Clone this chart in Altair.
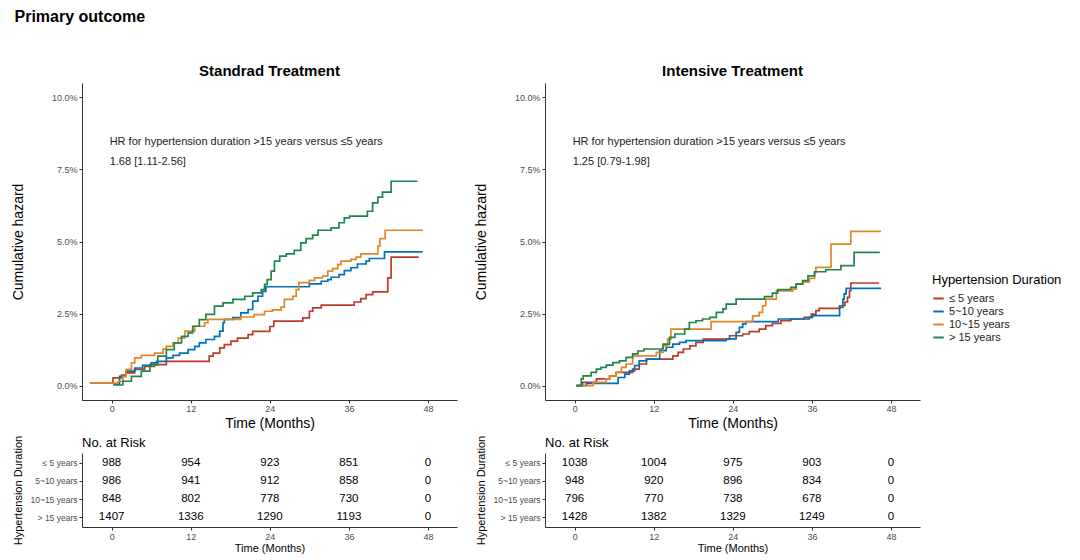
import altair as alt
import pandas as pd

FONT = "Liberation Sans"

groups = ["≤ 5 years", "5~10 years", "10~15 years", "> 15 years"]
colors = ["#BC3C29", "#0072B5", "#E18727", "#20854E"]

# ---- Standard treatment: cumulative hazard (%) step curves ----
std_le5_t = [-3.3, 0.2, 1.5, 2.2, 3.5, 5.0, 6.5, 8.3, 14.8, 15.4, 16.4, 17.1, 18.1, 19.1, 20.7, 21.4,
             24.0, 24.6, 29.0, 30.0, 30.5, 31.8, 36.8, 37.8, 38.6, 39.6, 41.9, 42.4, 46.6]
std_le5_h = [0.09, 0.27, 0.36, 0.44, 0.56, 0.67, 0.73, 0.84, 1.02, 1.13, 1.31, 1.42, 1.54, 1.65, 1.77, 1.88,
             2.05, 2.24, 2.35, 2.58, 2.70, 2.79, 2.90, 3.02, 3.16, 3.25, 3.74, 4.46, 4.46]
std_5_10_t = [0.3, 1.2, 2.2, 3.5, 4.7, 6.0, 6.8, 8.3, 9.3, 10.3, 11.6, 12.6, 13.3, 14.3, 15.6, 16.4,
              16.9, 17.1, 18.4, 19.6, 20.7, 21.4, 22.2, 22.9, 23.4, 30.0, 31.8, 32.8, 33.3, 34.5, 35.3, 36.3,
              37.3, 38.6, 39.1, 41.4, 47.2]
std_5_10_h = [0.05, 0.32, 0.50, 0.61, 0.70, 0.79, 0.84, 0.96, 1.05, 1.13, 1.25, 1.36, 1.48, 1.60, 1.71, 1.89,
              2.18, 2.30, 2.36, 2.52, 2.64, 2.93, 3.10, 3.27, 3.43, 3.53, 3.62, 3.68, 3.76, 3.85, 3.99, 4.09,
              4.22, 4.32, 4.41, 4.64, 4.64]
std_10_15_t = [-3.3, 1.0, 1.7, 2.2, 3.0, 3.5, 4.5, 6.5, 7.8, 8.3, 9.3, 10.1, 11.1, 12.6, 14.1, 14.6,
               19.6, 21.6, 23.2, 24.4, 25.7, 26.2, 27.5, 28.0, 28.4, 30.0, 30.8, 32.0, 32.8, 33.5, 34.3, 34.8,
               36.3, 37.1, 37.8, 40.4, 40.7, 41.5, 47.2]
std_10_15_h = [0.09, 0.15, 0.32, 0.56, 0.79, 0.96, 1.05, 1.13, 1.27, 1.36, 1.48, 1.65, 1.89, 2.06, 2.18, 2.30,
               2.38, 2.46, 2.58, 2.63, 2.72, 2.99, 3.10, 3.33, 3.57, 3.65, 3.74, 3.80, 3.97, 4.06, 4.20, 4.32,
               4.38, 4.46, 4.57, 4.84, 5.10, 5.39, 5.39]
std_gt15_t = [0.2, 1.7, 3.0, 4.5, 5.8, 7.0, 8.3, 9.5, 10.6, 11.6, 12.3, 13.3, 14.3, 15.6, 16.9, 18.4,
              20.2, 21.4, 22.7, 23.2, 23.6, 24.2, 24.7, 25.5, 26.5, 27.7, 28.7, 29.5, 30.5, 31.3, 33.3, 34.5,
              35.3, 36.1, 38.8, 39.6, 40.4, 41.1, 42.4, 46.4]
std_gt15_h = [0.02, 0.15, 0.32, 0.50, 0.73, 1.02, 1.25, 1.48, 1.71, 1.83, 2.06, 2.29, 2.47, 2.76, 2.87, 2.99,
              3.10, 3.22, 3.33, 3.51, 3.68, 3.97, 4.32, 4.49, 4.57, 4.69, 4.95, 5.10, 5.22, 5.39, 5.47, 5.65,
              5.82, 5.88, 6.05, 6.34, 6.54, 6.71, 7.09, 7.09]

# ---- Intensive treatment ----
int_le5_t = [0.25, 1.2, 3.3, 5.3, 6.3, 8.8, 9.8, 10.9, 14.9, 15.7, 16.5, 17.5, 18.4, 19.5, 23.5, 25.5,
             26.5, 28.0, 29.0, 30.0, 31.3, 32.8, 34.8, 35.9, 36.6, 37.1, 40.2, 41.0, 41.4, 41.7, 41.9, 46.2]
int_le5_h = [0.0, 0.11, 0.23, 0.34, 0.46, 0.57, 0.75, 0.92, 1.03, 1.15, 1.27, 1.38, 1.50, 1.61, 1.73, 1.79,
             1.87, 1.96, 2.08, 2.16, 2.25, 2.31, 2.37, 2.48, 2.60, 2.68, 2.77, 2.90, 3.06, 3.29, 3.56, 3.56]
int_5_10_t = [0.25, 1.8, 6.6, 7.6, 8.3, 9.1, 9.8, 10.9, 12.9, 13.9, 14.9, 15.9, 16.9, 23.0, 24.5, 25.0,
              25.5, 26.0, 30.9, 35.6, 36.1, 40.2, 40.7, 40.9, 41.2, 46.5]
int_5_10_h = [0.0, 0.08, 0.28, 0.40, 0.51, 0.69, 0.86, 0.92, 1.21, 1.33, 1.44, 1.50, 1.56, 1.62, 1.85, 2.02,
              2.14, 2.22, 2.31, 2.37, 2.43, 2.71, 3.00, 3.18, 3.37, 3.37]
int_10_15_t = [0.25, 2.8, 4.8, 5.3, 6.3, 7.1, 7.8, 8.8, 12.4, 13.4, 14.1, 14.6, 20.7, 27.0, 28.0, 28.5,
               29.0, 30.6, 33.1, 33.6, 34.6, 35.6, 36.4, 36.6, 38.9, 41.9, 46.5]
int_10_15_h = [0.0, 0.11, 0.23, 0.34, 0.46, 0.63, 0.75, 1.03, 1.15, 1.38, 1.61, 1.96, 2.22, 2.42, 2.54, 2.77,
               3.00, 3.29, 3.35, 3.52, 3.60, 3.72, 3.93, 4.10, 4.91, 5.35, 5.35]
int_gt15_t = [0.25, 1.0, 1.3, 2.5, 3.3, 4.0, 4.8, 5.8, 6.8, 7.8, 8.8, 9.6, 10.5, 13.4, 14.4, 15.2,
              16.7, 17.4, 18.4, 19.4, 20.5, 21.5, 22.5, 23.0, 24.5, 28.8, 30.0, 30.8, 32.8, 33.6, 34.6, 35.4,
              36.4, 38.1, 40.4, 42.4, 46.3]
int_gt15_h = [0.0, 0.23, 0.34, 0.46, 0.57, 0.63, 0.71, 0.80, 0.86, 0.98, 1.10, 1.20, 1.27, 1.44, 1.67, 1.79,
              1.96, 2.19, 2.25, 2.31, 2.37, 2.54, 2.66, 2.83, 3.00, 3.09, 3.21, 3.33, 3.41, 3.52, 3.64, 3.81,
              3.95, 4.02, 4.16, 4.62, 4.62]

# ---- Numbers at risk ----
risk_times = [0, 12, 24, 36, 48]
std_risk_le5 = [988, 954, 923, 851, 0]
std_risk_5_10 = [986, 941, 912, 858, 0]
std_risk_10_15 = [848, 802, 778, 730, 0]
std_risk_gt15 = [1407, 1336, 1290, 1193, 0]
int_risk_le5 = [1038, 1004, 975, 903, 0]
int_risk_5_10 = [948, 920, 896, 834, 0]
int_risk_10_15 = [796, 770, 738, 678, 0]
int_risk_gt15 = [1428, 1382, 1329, 1249, 0]

# ---- Annotations ----
hr_line1 = "HR for hypertension duration >15 years versus ≤5 years"
std_hr = "1.68 [1.11-2.56]"
int_hr = "1.25 [0.79-1.98]"
ann_t = [-0.3, -0.3]
ann_h = [8.44, 7.76]


def km_frame(series):
    rows = []
    for g, (ts, hs) in zip(groups, series):
        for t, h in zip(ts, hs):
            rows.append({"group": g, "t": t, "h": h})
    return pd.DataFrame(rows)


std_df = km_frame([(std_le5_t, std_le5_h), (std_5_10_t, std_5_10_h),
                   (std_10_15_t, std_10_15_h), (std_gt15_t, std_gt15_h)])
int_df = km_frame([(int_le5_t, int_le5_h), (int_5_10_t, int_5_10_h),
                   (int_10_15_t, int_10_15_h), (int_gt15_t, int_gt15_h)])


def risk_frame(rows_):
    out = []
    for g, vals in zip(groups, rows_):
        for t, n in zip(risk_times, vals):
            out.append({"group": g, "t": t, "n": n})
    return pd.DataFrame(out)


std_risk_df = risk_frame([std_risk_le5, std_risk_5_10, std_risk_10_15, std_risk_gt15])
int_risk_df = risk_frame([int_risk_le5, int_risk_5_10, int_risk_10_15, int_risk_gt15])

AX = dict(domainColor="#333333", tickColor="#333333", labelColor="#4d4d4d", grid=False,
          labelFont=FONT, titleFont=FONT, titleColor="black", titleFontWeight="normal",
          tickSize=3)

xscale = alt.Scale(domain=[-4.5, 52.4], nice=False, zero=False)
yscale = alt.Scale(domain=[-0.5, 10.5], nice=False, zero=False)

x_km = alt.X("t:Q", scale=xscale,
             axis=alt.Axis(values=[0, 12, 24, 36, 48], title="Time (Months)", labelFontSize=9,
                           titleFontSize=14, titlePadding=3, labelPadding=1, **AX))
y_km = alt.Y("h:Q", scale=yscale,
             axis=alt.Axis(values=[0, 2.5, 5, 7.5, 10], labelExpr="format(datum.value, '.1f') + '%'",
                           title="Cumulative hazard", labelFontSize=9, titleFontSize=14,
                           titlePadding=26, labelPadding=2, **AX))
color = alt.Color("group:N", sort=groups,
                  scale=alt.Scale(domain=groups, range=colors),
                  legend=alt.Legend(title="Hypertension Duration", orient="none",
                                    legendX=850, legendY=191,
                                    symbolType="stroke", symbolStrokeWidth=2, symbolSize=110,
                                    labelFont=FONT, labelFontSize=11, titleFont=FONT,
                                    titleFontSize=13, titleFontWeight="normal", rowPadding=1,
                                    labelColor="#222222", titleColor="black"))


def km_chart(df, title, hr2):
    lines = alt.Chart(df).mark_line(interpolate="step-after", strokeWidth=1.7).encode(
        x=x_km, y=y_km, color=color)
    ann_df = pd.DataFrame({"t": ann_t, "h": ann_h, "label": [hr_line1, hr2]})
    ann = alt.Chart(ann_df).mark_text(align="left", baseline="middle", font=FONT, fontSize=11,
                                      color="#222222").encode(x=x_km, y=y_km, text="label:N")
    return alt.layer(lines, ann).properties(
        width=375, height=317,
        title=alt.TitleParams(title, font=FONT, fontSize=15, fontWeight="bold", anchor="middle",
                              offset=4, color="black"))


def risk_chart(df):
    x = alt.X("t:Q", scale=xscale,
              axis=alt.Axis(values=risk_times, title="Time (Months)", labelFontSize=9,
                            titleFontSize=11, titlePadding=1, labelPadding=2, **AX))
    y = alt.Y("group:N", sort=groups, scale=alt.Scale(domain=groups, type="point", padding=0.55),
              axis=alt.Axis(title="Hypertension Duration", labelFontSize=8.5, titleFontSize=11,
                            titlePadding=6, labelPadding=2, **AX))
    nums = alt.Chart(df).mark_text(font=FONT, fontSize=11.5, color="black").encode(
        x=x, y=y, text="n:Q")
    head = alt.Chart(pd.DataFrame({"label": ["No. at Risk"]})).mark_text(
        align="left", baseline="middle", font=FONT, fontSize=13, color="black").encode(
        x=alt.value(0), y=alt.value(-10), text="label:N")
    return alt.layer(nums, head).properties(width=375, height=74)


left = alt.vconcat(km_chart(std_df, "Standrad Treatment", std_hr), risk_chart(std_risk_df), spacing=5)
right = alt.vconcat(km_chart(int_df, "Intensive Treatment", int_hr), risk_chart(int_risk_df), spacing=5)

chart = alt.hconcat(left, right, spacing=17).properties(
    title=alt.TitleParams("Primary outcome", font=FONT, fontSize=16, fontWeight="bold",
                          anchor="start", offset=39, dx=3, color="black"),
    padding={"left": 11, "top": 9, "right": 5, "bottom": 2},
    background="white",
).configure_view(stroke="transparent", strokeWidth=0)

chart.save("out.html", embed_options={"renderer": "svg", "actions": False})
